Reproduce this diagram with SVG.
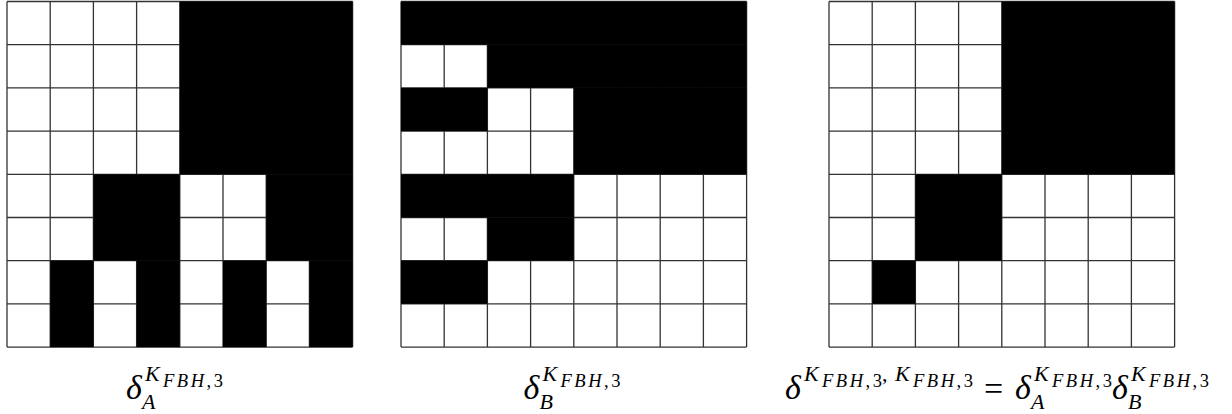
<svg xmlns="http://www.w3.org/2000/svg" xmlns:xlink="http://www.w3.org/1999/xlink" width="1232" height="414" viewBox="0 0 1232 414">
<style>
.bg{fill:#fff}
.blk{fill:#000}
.grid{fill:none;stroke:#333;stroke-width:1.3}
.m{font-family:"Liberation Serif","Times New Roman",serif;font-style:italic;fill:#000}
.up{font-style:normal}
.d{font-size:34px}
.s{font-size:22px}
.ss{font-size:18.5px}
</style>
<defs>
<path id="lines" class="grid" d="M0 0H345.6M0 43.2H345.6M0 86.4H345.6M0 129.6H345.6M0 172.8H345.6M0 216H345.6M0 259.2H345.6M0 302.4H345.6M0 345.6H345.6M0 0V345.6M43.2 0V345.6M86.4 0V345.6M129.6 0V345.6M172.8 0V345.6M216 0V345.6M259.2 0V345.6M302.4 0V345.6M345.6 0V345.6"/>
</defs>
<g id="gridA" transform="translate(7,1.5)">
<rect class="bg" width="345.6" height="345.6"/>
<use xlink:href="#lines"/>
<rect class="blk" x="172.8" y="0" width="172.8" height="172.8"/>
<rect class="blk" x="86.4" y="172.8" width="86.4" height="86.4"/>
<rect class="blk" x="259.2" y="172.8" width="86.4" height="86.4"/>
<rect class="blk" x="43.2" y="259.2" width="43.2" height="86.4"/>
<rect class="blk" x="129.6" y="259.2" width="43.2" height="86.4"/>
<rect class="blk" x="216" y="259.2" width="43.2" height="86.4"/>
<rect class="blk" x="302.4" y="259.2" width="43.2" height="86.4"/>
</g>
<g id="gridB" transform="translate(401,1.5)">
<rect class="bg" width="345.6" height="345.6"/>
<use xlink:href="#lines"/>
<rect class="blk" x="0" y="0" width="345.6" height="43.2"/>
<rect class="blk" x="86.4" y="43.2" width="259.2" height="43.2"/>
<rect class="blk" x="0" y="86.4" width="86.4" height="43.2"/>
<rect class="blk" x="172.8" y="86.4" width="172.8" height="86.4"/>
<rect class="blk" x="0" y="172.8" width="172.8" height="43.2"/>
<rect class="blk" x="86.4" y="216" width="86.4" height="43.2"/>
<rect class="blk" x="0" y="259.2" width="86.4" height="43.2"/>
</g>
<g id="gridC" transform="translate(829,1.5)">
<rect class="bg" width="345.6" height="345.6"/>
<use xlink:href="#lines"/>
<rect class="blk" x="172.8" y="0" width="172.8" height="172.8"/>
<rect class="blk" x="86.4" y="172.8" width="86.4" height="86.4"/>
<rect class="blk" x="43.2" y="259.2" width="43.2" height="43.2"/>
</g>
<g id="labelA">
<text class="m d" x="126" y="399">δ</text>
<text class="m s" x="145" y="381">K</text>
<text class="m ss" x="163" y="387" textLength="60" lengthAdjust="spacing">FBH<tspan class="up">,3</tspan></text>
<text class="m s" x="142" y="409">A</text>
</g>
<g id="labelB">
<text class="m d" x="523.5" y="399">δ</text>
<text class="m s" x="542.5" y="381">K</text>
<text class="m ss" x="560.5" y="387" textLength="60" lengthAdjust="spacing">FBH<tspan class="up">,3</tspan></text>
<text class="m s" x="539.5" y="409">B</text>
</g>
<g id="labelC">
<text class="m d" x="785" y="399">δ</text>
<text class="m s" x="804" y="381">K</text>
<text class="m ss" x="822" y="387" textLength="60" lengthAdjust="spacing">FBH<tspan class="up">,3</tspan></text>
<text class="m s up" x="882" y="381">,</text>
<text class="m s" x="895" y="381">K</text>
<text class="m ss" x="913" y="387" textLength="60" lengthAdjust="spacing">FBH<tspan class="up">,3</tspan></text>
<text class="m d up" x="984" y="400">=</text>
<text class="m d" x="1015" y="399">δ</text>
<text class="m s" x="1034" y="381">K</text>
<text class="m ss" x="1052" y="387" textLength="60" lengthAdjust="spacing">FBH<tspan class="up">,3</tspan></text>
<text class="m s" x="1031" y="409">A</text>
<text class="m d" x="1112" y="399">δ</text>
<text class="m s" x="1131" y="381">K</text>
<text class="m ss" x="1149" y="387" textLength="60" lengthAdjust="spacing">FBH<tspan class="up">,3</tspan></text>
<text class="m s" x="1128" y="409">B</text>
</g>
</svg>
